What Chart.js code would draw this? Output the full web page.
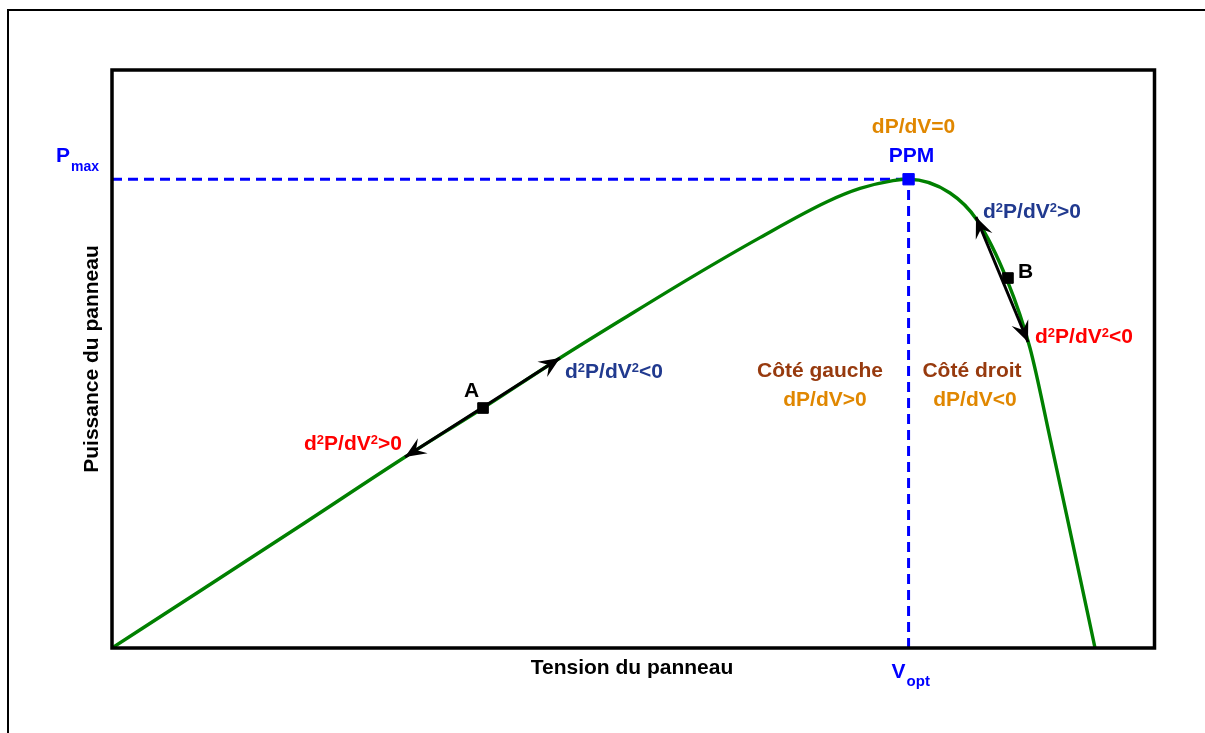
<!DOCTYPE html>
<html><head><meta charset="utf-8">
<script src="https://cdn.jsdelivr.net/npm/chart.js@4.4.1/dist/chart.umd.min.js"></script>
<style>html,body{margin:0;padding:0;background:#fff}#wrap{width:1205px;height:733px;position:relative}</style>
</head><body><div id="wrap"><canvas id="c"></canvas></div>
<script>
// P-V curve of the panel (arbitrary units, 0..100 on each axis)
const voltage = [0, 8.43, 18.0, 28.07, 35.54, 42.91, 49.33, 55.65, 62.07, 68.49, 71.65, 74.81, 76.3, 80.27, 82.85, 85.73, 87.93, 89.85, 91.95, 94.16];
const power   = [0, 9.86, 21.1, 33.04, 41.52, 50.17, 57.36, 64.3, 71.0, 77.2, 79.5, 80.85, 81.1, 78.72, 74.05, 63.67, 51.9, 36.33, 18.69, 0];
// maximum power point
const vOpt = 76.3;
const pMax = 81.1;
// tangent arrows around points A and B
const arrowAX = [28.07, 42.91];
const arrowAY = [33.04, 50.17];
const pointA  = [35.54, 41.52];
const arrowBX = [82.76, 87.74];
const arrowBY = [74.57, 52.94];
const pointB  = [85.82, 64.01];

const GREEN = '#008000', BLUE = '#0000ff', DBLUE = '#213a8f', RED = '#ff0000', ORANGE = '#e08700', BROWN = '#973a0e';
const F = '"Liberation Sans", Arial, sans-serif';

const xy = (xs, ys) => xs.map((x, i) => ({x, y: ys[i]}));

function arrowHead(ctx, x1, y1, x2, y2) {
  const a = Math.atan2(y2 - y1, x2 - x1);
  const L = 21, W = 9, N = 13;
  ctx.save();
  ctx.translate(x2, y2); ctx.rotate(a);
  ctx.beginPath();
  ctx.moveTo(0, 0);
  ctx.lineTo(-L, -W);
  ctx.lineTo(-N, 0);
  ctx.lineTo(-L, W);
  ctx.closePath();
  ctx.fillStyle = '#000'; ctx.fill();
  ctx.restore();
}

function rich(ctx, parts, x, y, color, align) {
  const big = 'bold 21px ' + F, small = 'bold 13px ' + F;
  let w = 0;
  parts.forEach(p => { ctx.font = p.s ? small : big; w += ctx.measureText(p.t).width; });
  let cx = align === 'center' ? x - w / 2 : x;
  ctx.fillStyle = color; ctx.textAlign = 'left'; ctx.textBaseline = 'alphabetic';
  parts.forEach(p => {
    ctx.font = p.s ? small : big;
    ctx.fillText(p.t, cx, p.s ? y - 6 : y);
    cx += ctx.measureText(p.t).width;
  });
}
const d2 = (sign) => [{t:'d'},{t:'2',s:1},{t:'P/dV'},{t:'2',s:1},{t:sign + '0'}];

const deco = {
  id: 'deco',
  beforeDraw(chart) {
    const ctx = chart.ctx;
    ctx.save();
    ctx.fillStyle = '#fff'; ctx.fillRect(0, 0, chart.width, chart.height);
    ctx.strokeStyle = '#000'; ctx.lineWidth = 2;
    ctx.beginPath();
    ctx.moveTo(8, chart.height); ctx.lineTo(8, 10); ctx.lineTo(chart.width, 10);
    ctx.stroke();
    ctx.restore();
  },
  afterDatasetsDraw(chart) {
    const ctx = chart.ctx, xs = chart.scales.x, ys = chart.scales.y, a = chart.chartArea;
    ctx.save();
    const ax = arrowAX.map(v => xs.getPixelForValue(v)), ay = arrowAY.map(v => ys.getPixelForValue(v));
    arrowHead(ctx, ax[0], ay[0], ax[1], ay[1]);
    arrowHead(ctx, ax[1], ay[1], ax[0], ay[0]);
    const bx = arrowBX.map(v => xs.getPixelForValue(v)), by = arrowBY.map(v => ys.getPixelForValue(v));
    arrowHead(ctx, bx[0], by[0], bx[1], by[1]);
    arrowHead(ctx, bx[1], by[1], bx[0], by[0]);
    ctx.strokeStyle = '#000'; ctx.lineWidth = 3.5;
    ctx.strokeRect(a.left, a.top, a.right - a.left - 1.5, a.bottom - a.top);
    const px = xs.getPixelForValue(vOpt), py = ys.getPixelForValue(pMax);
    ctx.textBaseline = 'alphabetic';
    ctx.fillStyle = BLUE; ctx.textAlign = 'left';
    ctx.font = 'bold 21px ' + F; ctx.fillText('P', 56, py - 17);
    ctx.font = 'bold 14px ' + F; ctx.fillText('max', 71, py - 8);
    ctx.font = 'bold 21px ' + F; ctx.fillText('V', px - 17, 678);
    ctx.font = 'bold 15px ' + F; ctx.fillText('opt', px - 2, 686);
    rich(ctx, [{t:'dP/dV=0'}], px + 5, py - 46, ORANGE, 'center');
    rich(ctx, [{t:'PPM'}], px + 3, py - 17, BLUE, 'center');
    rich(ctx, d2('>'), 983, 218, DBLUE, 'left');
    rich(ctx, [{t:'B'}], 1018, 278, '#000', 'left');
    rich(ctx, d2('<'), 1035, 343, RED, 'left');
    rich(ctx, [{t:'A'}], 464, 397, '#000', 'left');
    rich(ctx, d2('<'), 565, 378, DBLUE, 'left');
    rich(ctx, d2('>'), 304, 450, RED, 'left');
    rich(ctx, [{t:'Côté gauche'}], 820, 377, BROWN, 'center');
    rich(ctx, [{t:'dP/dV>0'}], 825, 406, ORANGE, 'center');
    rich(ctx, [{t:'Côté droit'}], 972, 377, BROWN, 'center');
    rich(ctx, [{t:'dP/dV<0'}], 975, 406, ORANGE, 'center');
    rich(ctx, [{t:'Tension du panneau'}], 632, 674, '#000', 'center');
    ctx.save();
    ctx.translate(98, 359);
    ctx.rotate(-Math.PI / 2);
    rich(ctx, [{t:'Puissance du panneau'}], 0, 0, '#000', 'center');
    ctx.restore();
    ctx.restore();
  }
};

new Chart(document.getElementById('c'), {
  type: 'line',
  data: {
    datasets: [
      { label: 'PPM', data: [{x: vOpt, y: pMax}], showLine: false, pointStyle: 'rect', pointRadius: 8, backgroundColor: BLUE, borderColor: BLUE, order: 0 },
      { label: 'A', data: [{x: pointA[0], y: pointA[1]}], showLine: false, pointStyle: 'rect', pointRadius: 7.5, backgroundColor: '#000', borderColor: '#000', order: 0 },
      { label: 'B', data: [{x: pointB[0], y: pointB[1]}], showLine: false, pointStyle: 'rect', pointRadius: 7.5, backgroundColor: '#000', borderColor: '#000', order: 0 },
      { label: 'tanA', data: xy(arrowAX, arrowAY), borderColor: '#000', borderWidth: 3, pointRadius: 0, order: 1 },
      { label: 'tanB', data: xy(arrowBX, arrowBY), borderColor: '#000', borderWidth: 3, pointRadius: 0, order: 1 },
      { label: 'P(V)', data: xy(voltage, power), borderColor: GREEN, borderWidth: 3.4, pointRadius: 0, cubicInterpolationMode: 'monotone', order: 2 },
      { label: 'Pmax', data: [{x: 0, y: pMax}, {x: vOpt, y: pMax}], borderColor: BLUE, borderWidth: 3, borderDash: [10, 6], pointRadius: 0, order: 3 },
      { label: 'Vopt', data: [{x: vOpt, y: 0}, {x: vOpt, y: pMax}], borderColor: BLUE, borderWidth: 3, borderDash: [10, 6], pointRadius: 0, order: 3 }
    ]
  },
  options: {
    responsive: true, maintainAspectRatio: false, animation: false,
    layout: { padding: { left: 112, top: 70, right: 49, bottom: 85 } },
    plugins: { legend: { display: false }, tooltip: { enabled: false } },
    scales: {
      x: { type: 'linear', min: 0, max: 100, display: false },
      y: { type: 'linear', min: 0, max: 100, display: false }
    }
  },
  plugins: [deco]
});
</script></body></html>
